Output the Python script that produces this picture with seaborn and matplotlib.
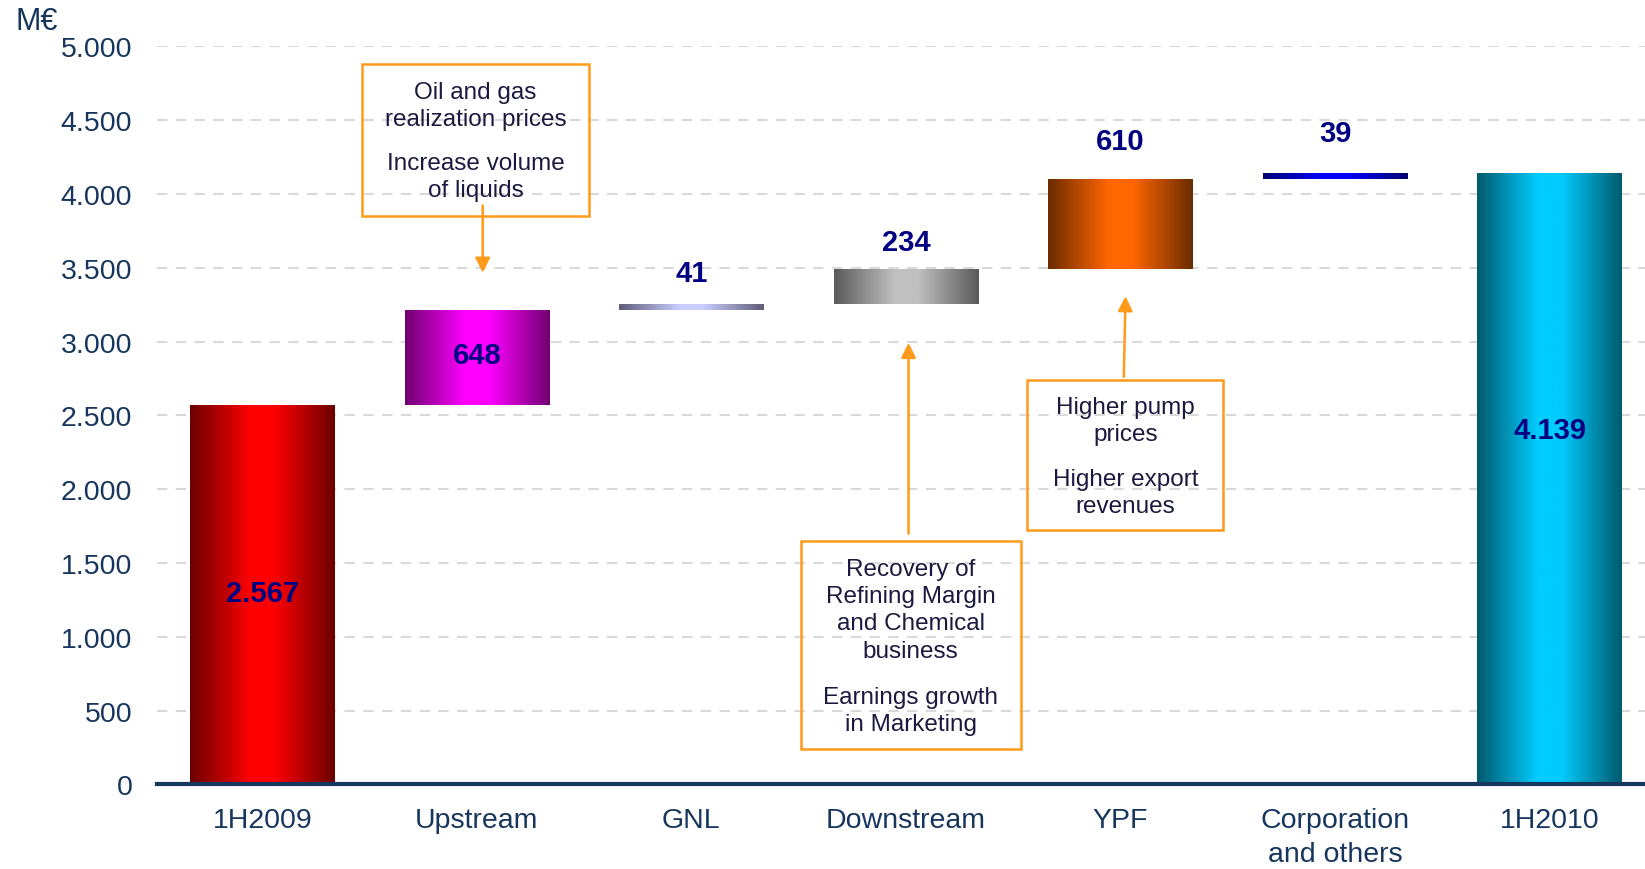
import numpy as np
import matplotlib
matplotlib.use("Agg")
import matplotlib.pyplot as plt
from matplotlib.colors import LinearSegmentedColormap
from matplotlib.patches import Rectangle
from matplotlib.ticker import FuncFormatter
import seaborn as sns

# datos del puente 1H2009 -> 1H2010 (M€)
categorias = ["1H2009", "Upstream", "GNL", "Downstream", "YPF", "Corporation\nand others", "1H2010"]
valores = [2567, 648, 41, 234, 610, 39, 4139]
es_total = [True, False, False, False, False, False, True]
etiquetas = ["2.567", "648", "41", "234", "610", "39", "4.139"]

# colores borde / centro del degradado
borde = ["#6b0000", "#700070", "#5e5e78", "#5a5a5a", "#6b2c00", "#000070", "#005a6e"]
centro = ["#ff0000", "#ff00ff", "#ccccff", "#c0c0c0", "#ff6600", "#0000ff", "#00ccff"]

# notas
nota_upstream = ["Oil and gas\nrealization prices", "Increase volume\nof liquids"]
nota_downstream = ["Recovery of\nRefining Margin\nand Chemical\nbusiness", "Earnings growth\nin Marketing"]
nota_ypf = ["Higher pump\nprices", "Higher export\nrevenues"]

AZUL = "#17365d"
NAVY = "#000080"
NARANJA = "#ff9a1a"

sns.set_style("white")
plt.rcParams["font.family"] = ["Liberation Sans", "DejaVu Sans"]

# bases del waterfall
bases = []
acum = 0
for v, t in zip(valores, es_total):
    if t:
        bases.append(0)
        acum = v
    else:
        bases.append(acum)
        acum += v
topes = [b + v for b, v in zip(bases, valores)]

fig = plt.figure(figsize=(16.45, 8.7), dpi=100)
ax = fig.add_axes([0.0956, 0.0972, 0.9044, 0.8485])

sns.barplot(x=list(range(len(categorias))), y=topes, width=0.675, color="white", ax=ax, zorder=2)

grad = np.linspace(0, 1, 256).reshape(1, -1)
for i, p in enumerate(ax.patches):
    p.set_y(bases[i])
    p.set_height(valores[i])
    p.set_facecolor("none")
    p.set_edgecolor("none")
    cmap = LinearSegmentedColormap.from_list(
        "g%d" % i, [(0, borde[i]), (0.42, centro[i]), (0.58, centro[i]), (1, borde[i])])
    x0 = p.get_x()
    w = p.get_width()
    im = ax.imshow(grad, cmap=cmap, aspect="auto", interpolation="bicubic",
                   extent=[x0, x0 + w, bases[i], topes[i]], zorder=2)
    im.set_clip_path(p)

# etiquetas de valor
pos_frac = [0.505, 0.53, None, None, None, None, 0.58]
pad_arriba = [0, 0, 205, 185, 255, 275, 0]
for i in range(len(valores)):
    if pos_frac[i] is not None:
        y = bases[i] + valores[i] * pos_frac[i]
    else:
        y = topes[i] + pad_arriba[i]
    ax.text(i, y, etiquetas[i], ha="center", va="center", fontsize=21,
            fontweight="bold", color=NAVY, zorder=4)

# notas con flecha
def nota(x0, x1, y0, y1, xc, yc, parrafos):
    ax.add_patch(Rectangle((x0, y0), x1 - x0, y1 - y0, fill=False,
                           edgecolor=NARANJA, lw=1.8, zorder=3, clip_on=False))
    for texto, yy in zip(parrafos, yc):
        ax.text(xc, yy, texto, ha="center", va="center", fontsize=17.5,
                color="#1a1a40", linespacing=1.3, zorder=4)

nota(0.465, 1.521, 3853, 4879, 0.993, [4601, 4120], nota_upstream)
nota(2.509, 3.535, 242, 1652, 3.022, [1182, 502], nota_downstream)
nota(3.565, 4.479, 1724, 2742, 4.024, [2468, 1976], nota_ypf)

flecha = dict(arrowstyle="-|>", color=NARANJA, lw=1.8, mutation_scale=22)
ax.annotate("", xy=(1.027, 3447), xytext=(1.027, 3940), arrowprops=flecha, zorder=4)
ax.annotate("", xy=(3.012, 3010), xytext=(3.012, 1680), arrowprops=flecha, zorder=4)
ax.annotate("", xy=(4.024, 3326), xytext=(4.015, 2742), arrowprops=flecha, zorder=4)

# ejes
ax.set_xlim(-0.49, 6.445)
ax.set_ylim(0, 5000)
ax.set_yticks(range(0, 5001, 500))
ax.yaxis.set_major_formatter(FuncFormatter(lambda v, _: f"{int(v):,}".replace(",", ".")))
ax.set_xticks(range(len(categorias)))
ax.set_xticklabels(categorias, linespacing=1.4)
ax.tick_params(axis="y", length=0, pad=18, labelsize=20.5, labelcolor=AZUL)
ax.tick_params(axis="x", length=0, pad=16, labelsize=20.5, labelcolor=AZUL)
ax.set_xlabel("")
ax.set_ylabel("")
ax.grid(axis="y", color="#d9d9d9", linestyle=(0, (5, 4)), lw=1.5, zorder=0)
ax.set_axisbelow(True)
for s in ["top", "right", "left"]:
    ax.spines[s].set_visible(False)
ax.spines["bottom"].set_color(AZUL)
ax.spines["bottom"].set_linewidth(3)
ax.spines["bottom"].set_zorder(5)

fig.text(15 / 1645, 1 - 22 / 870, "M€", ha="left", va="center", fontsize=22, color=AZUL)

fig.savefig("out.png", dpi=100)
